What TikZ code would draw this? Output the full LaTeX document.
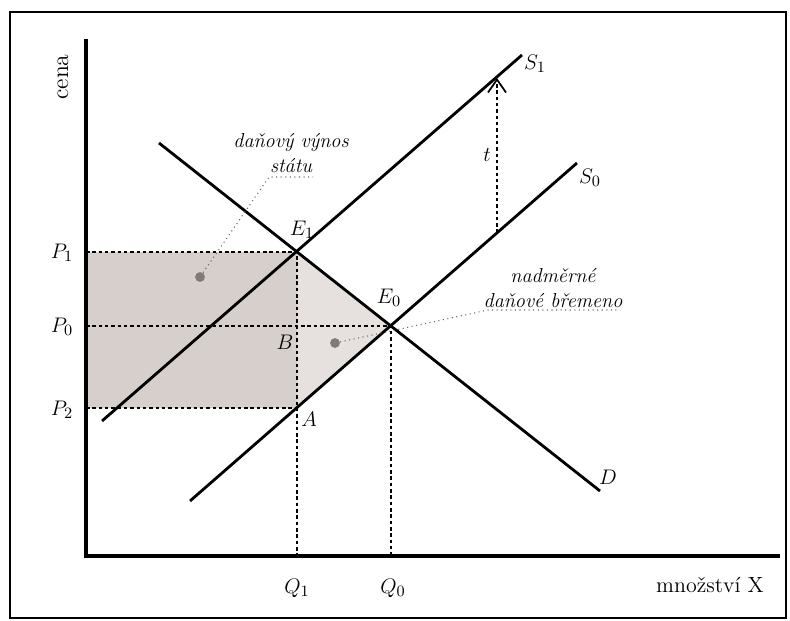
\documentclass[tikz,border=0pt]{standalone}
\usepackage{fontspec}
\usetikzlibrary{arrows.meta}
\definecolor{rectgray}{RGB}{214,207,203}
\definecolor{trigray}{RGB}{230,224,222}
\definecolor{dotgray}{RGB}{128,122,122}
\tikzset{
  curve/.style={line width=1.6pt},
  guide/.style={line width=0.8pt,dash pattern=on 2pt off 1.6pt},
  leader/.style={line width=0.6pt,gray!80!black,dotted},
  lbl/.style={font=\fontsize{12.5}{14}\selectfont},
  note/.style={font=\fontsize{11.5}{14}\selectfont\itshape,align=center,inner sep=1pt},
  spot/.style={circle,fill=dotgray,inner sep=0pt,minimum size=5.6pt}
}
\begin{document}
\begin{tikzpicture}[x=0.02cm,y=-0.02cm]
  \useasboundingbox (0,0) rectangle (790,621);
  \draw[line width=1.4pt] (10,12) rectangle (786,618);
  % key points
  \coordinate (O) at (86,556);
  \coordinate (E1) at (297,252);
  \coordinate (E0) at (391,326);
  \coordinate (A) at (297,408);
  \coordinate (P1) at (86,252);
  \coordinate (P0) at (86,326);
  \coordinate (P2) at (86,408);
  \coordinate (Q1) at (297,556);
  \coordinate (Q0) at (391,556);
  % areas
  \fill[rectgray] (P2) rectangle (E1);
  \fill[trigray] (E1) -- (E0) -- (A) -- cycle;
  % guides
  \draw[guide] (P1) -- (E1) -- (Q1);
  \draw[guide] (P0) -- (E0) -- (Q0);
  \draw[guide] (P2) -- (A);
  % axes
  \draw[line width=1.8pt] (86,39) -- (O) -- (780,556);
  \node[rotate=90,font=\fontsize{13.5}{15}\selectfont] (cena) at (63,77) {cena};
  \node[lbl] (mx) at (710,585) {množství X};
  % curves
  \coordinate (d0) at (159,143);
  \coordinate (d1) at (600,491);
  \coordinate (s00) at (190,501);
  \coordinate (s01) at (577,163);
  \coordinate (s10) at (102,421);
  \coordinate (s11) at (522,55);
  \draw[curve] (d0) -- (d1);
  \draw[curve] (s00) -- (s01);
  \draw[curve] (s10) -- (s11);
  \node[lbl] (Dl) at (608,477) {$D$};
  \node[lbl] (S0l) at (590,178) {$S_0$};
  \node[lbl] (S1l) at (535,64) {$S_1$};
  % tax
  \coordinate (t0) at (497,233);
  \coordinate (t1) at (497,78);
  \draw[guide,-{Straight Barb[length=2.6mm,width=3.6mm,line width=1pt]}] (t0) -- (t1);
  \node[lbl] (tl) at (487,155) {$t$};
  % point labels
  \node[lbl] (E1l) at (302,230) {$E_1$};
  \node[lbl] (E0l) at (389,298) {$E_0$};
  \node[lbl] (Bl) at (285,342) {$B$};
  \node[lbl] (Al) at (309,419) {$A$};
  \node[lbl] (P1l) at (62,253) {$P_1$};
  \node[lbl] (P0l) at (62,327) {$P_0$};
  \node[lbl] (P2l) at (62,410) {$P_2$};
  \node[lbl] (Q1l) at (297,588) {$Q_1$};
  \node[lbl] (Q0l) at (393,588) {$Q_0$};
  % notes
  \node[note] (rev) at (291,153) {daňový výnos\\státu};
  \node[note] (dwl) at (553,288) {nadměrné\\daňové břemeno};
  \node[spot] (dot1) at (200,277) {};
  \node[spot] (dot2) at (335,343) {};
  \coordinate (u1a) at (269,177);
  \coordinate (u1b) at (313,177);
  \coordinate (u2a) at (488,310);
  \coordinate (u2b) at (620,310);
  \draw[leader] (dot1) -- (u1a) -- (u1b);
  \draw[leader] (dot2) -- (u2a) -- (u2b);
\end{tikzpicture}
\end{document}
